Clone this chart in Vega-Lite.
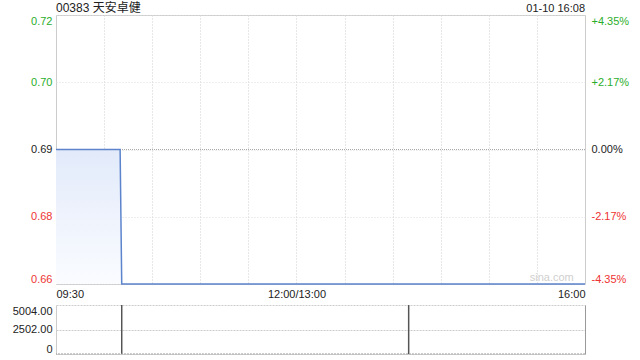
{
  "$schema": "https://vega.github.io/schema/vega-lite/v6.json",
  "padding": {"left": 5, "top": 1, "right": 5, "bottom": 2},
  "background": "white",
  "spacing": 0,
  "config": {
    "font": "Liberation Sans, Noto Sans CJK SC",
    "axis": {"labelFont": "Liberation Sans", "labelFontSize": 11, "labelColor": "#222222", "title": null}
  },
  "datasets": {
    "price": [
      {"t": 0, "p": 0.69},
      {"t": 40, "p": 0.69},
      {"t": 41, "p": 0.66},
      {"t": 330, "p": 0.66}
    ],
    "vol": [
      {"t": 41, "v": 5004},
      {"t": 220, "v": 5000}
    ]
  },
  "vconcat": [
    {
      "width": 529,
      "height": 269,
      "view": {"stroke": "#cccccc"},
      "layer": [
        {
          "data": {"name": "price"},
          "mark": {
            "type": "area",
            "color": {
              "gradient": "linear", "x1": 0, "y1": 0, "x2": 0, "y2": 1,
              "stops": [{"offset": 0, "color": "#e2eafa"}, {"offset": 1, "color": "#fafcff"}]
            }
          },
          "encoding": {
            "x": {
              "field": "t", "type": "quantitative",
              "scale": {"domain": [0, 330], "nice": false},
              "axis": {
                "values": [0, 30, 60, 90, 120, 150, 180, 210, 240, 270, 300, 330],
                "labelExpr": "datum.value == 0 ? '09:30' : datum.value == 150 ? '12:00/13:00' : datum.value == 330 ? '16:00' : ''",
                "grid": true, "gridColor": "#cfcfcf", "gridDash": [1, 2],
                "ticks": false, "domain": false, "labelFlush": true, "labelOverlap": false,
                "labelPadding": 4, "minExtent": 17, "maxExtent": 17
              }
            },
            "y": {
              "field": "p", "type": "quantitative",
              "scale": {"domain": [0.66, 0.72], "nice": false, "zero": false},
              "axis": {
                "orient": "right",
                "values": [0.66, 0.675, 0.69, 0.705, 0.72],
                "labelExpr": "(datum.value > 0.6901 ? '+' : '') + replace(format((datum.value / 0.69 - 1) * 100, '.2f'), '\u2212', '-') + '%'",
                "labelColor": {"condition": [{"test": "datum.value > 0.6901", "value": "#2aae2a"}, {"test": "datum.value < 0.6899", "value": "#ee3333"}], "value": "#222222"},
                "ticks": false, "domain": false, "grid": false,
                "labelPadding": 6, "labelFlush": true
              }
            },
            "y2": {"datum": 0.66}
          }
        },
        {
          "data": {"values": [{}]},
          "mark": {"type": "rule", "color": "#aaaaaa", "strokeDash": [1, 1], "strokeWidth": 1},
          "encoding": {"y": {"datum": 0.69, "axis": null}}
        },
        {
          "data": {"name": "price"},
          "mark": {"type": "line", "color": "#5c84cc", "strokeWidth": 1.5},
          "encoding": {
            "x": {"field": "t", "type": "quantitative"},
            "y": {
              "field": "p", "type": "quantitative",
              "axis": {
                "orient": "left",
                "values": [0.66, 0.675, 0.69, 0.705, 0.72],
                "labelExpr": "format(datum.value, '.2f')",
                "labelColor": {"condition": [{"test": "datum.value > 0.6901", "value": "#2aae2a"}, {"test": "datum.value < 0.6899", "value": "#ee3333"}], "value": "#222222"},
                "ticks": false, "domain": false,
                "grid": true, "gridColor": "#dddddd", "gridDash": [1, 2],
                "labelPadding": 4, "labelFlush": true, "minExtent": 50, "maxExtent": 50
              }
            }
          }
        },
        {
          "data": {"values": [{}]},
          "mark": {"type": "text", "align": "left", "baseline": "alphabetic", "dy": -3, "fontSize": 12, "font": "Liberation Sans, Noto Sans CJK SC", "color": "#222222"},
          "encoding": {"x": {"datum": 0}, "y": {"datum": 0.72, "axis": null}, "text": {"value": "00383 天安卓健"}}
        },
        {
          "data": {"values": [{}]},
          "mark": {"type": "text", "align": "right", "baseline": "alphabetic", "dy": -3, "fontSize": 11, "font": "Liberation Sans", "color": "#222222"},
          "encoding": {"x": {"datum": 330}, "y": {"datum": 0.72, "axis": null}, "text": {"value": "01-10 16:08"}}
        },
        {
          "data": {"values": [{}]},
          "mark": {"type": "text", "align": "right", "baseline": "bottom", "dy": -1, "fontSize": 11, "font": "Liberation Sans", "color": "#cfcfcf"},
          "encoding": {"x": {"datum": 323}, "y": {"datum": 0.66, "axis": null}, "text": {"value": "sina.com"}}
        }
      ],
      "resolve": {"axis": {"y": "independent"}}
    },
    {
      "width": 529,
      "height": 49,
      "view": {"stroke": null},
      "layer": [
        {
          "data": {"name": "vol"},
          "mark": {"type": "rule", "color": "#555555", "strokeWidth": 1.5},
          "encoding": {
            "x": {"field": "t", "type": "quantitative", "scale": {"domain": [0, 330], "nice": false}, "axis": null},
            "y": {
              "field": "v", "type": "quantitative",
              "scale": {"domain": [0, 5004], "nice": false},
              "axis": {
                "orient": "left",
                "values": [0, 2502, 5004],
                "labelExpr": "datum.value == 0 ? '0' : format(datum.value, '.2f')",
                "ticks": false, "domain": true, "domainColor": "#cccccc",
                "grid": true, "gridColor": "#cccccc", "gridDash": [2, 1],
                "labelPadding": 4, "labelFlush": true, "minExtent": 50, "maxExtent": 50
              }
            },
            "y2": {"datum": 0}
          }
        },
        {
          "data": {"name": "vol"},
          "mark": {"type": "point", "opacity": 0},
          "encoding": {
            "x": {"field": "t", "type": "quantitative", "axis": null},
            "y": {
              "field": "v", "type": "quantitative",
              "axis": {"orient": "right", "labels": false, "ticks": false, "grid": false, "domain": true, "domainColor": "#999999"}
            }
          }
        },
        {
          "data": {"values": [{}]},
          "mark": {"type": "rule", "color": "#999999", "strokeDash": [2, 1], "strokeWidth": 1},
          "encoding": {"y": {"datum": 0, "axis": null}}
        }
      ],
      "resolve": {"axis": {"y": "independent"}}
    }
  ]
}
